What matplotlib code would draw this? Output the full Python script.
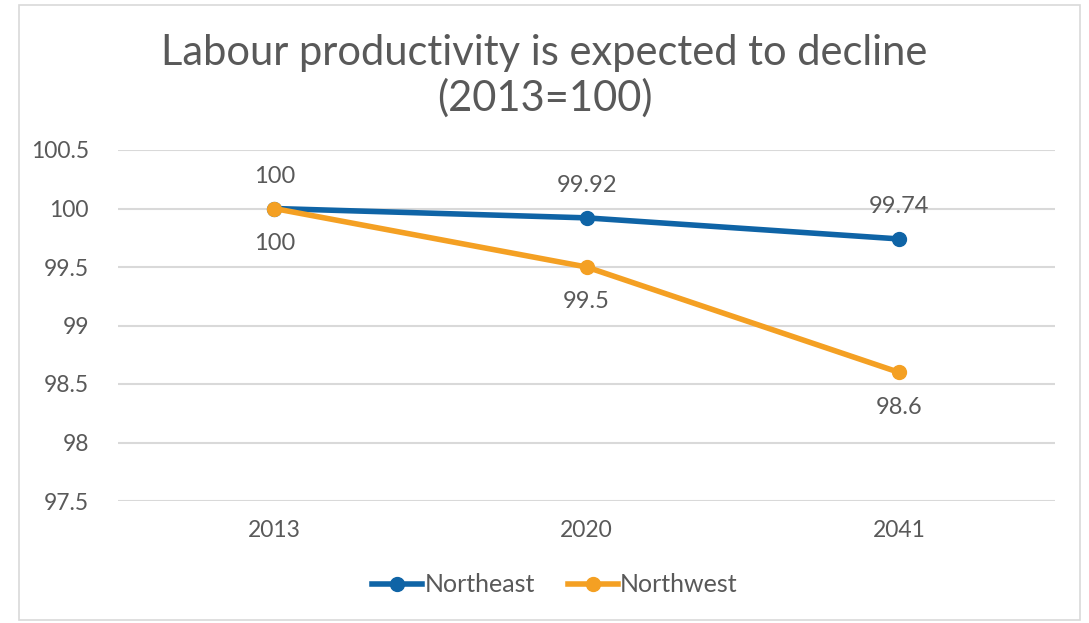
import matplotlib
matplotlib.use("Agg")
import matplotlib.pyplot as plt
from matplotlib.patches import Rectangle
from matplotlib.lines import Line2D

years = ["2013", "2020", "2041"]
northeast = [100, 99.92, 99.74]
northwest = [100, 99.5, 98.6]
y_ticks = [97.5, 98, 98.5, 99, 99.5, 100, 100.5]

BLUE = "#0F64A6"
ORANGE = "#F4A023"
TEXT = "#595959"
GRID = "#D9D9D9"
FONT = "Lato"

plt.rcParams["font.family"] = [FONT, "DejaVu Sans"]

W, H = 1089, 623
fig = plt.figure(figsize=(W / 100, H / 100), dpi=100)
fig.patch.set_facecolor("white")

# chart frame
fig.add_artist(Rectangle((19 / W, 1 - 620 / H), (1080 - 19) / W, (620 - 5) / H,
                         transform=fig.transFigure, fill=False,
                         edgecolor="#D9D9D9", linewidth=1.2))

ax = fig.add_axes([118 / W, 1 - 501 / H, (1055 - 118) / W, (501 - 150) / H])
x = [0.5, 1.5, 2.5]
ax.set_xlim(0, 3)
ax.set_ylim(97.5, 100.5)
ax.set_yticks(y_ticks)
ax.set_yticklabels([f"{v:g}" for v in y_ticks])
ax.set_xticks(x)
ax.set_xticklabels(years)
ax.tick_params(length=0, labelsize=16.5, labelcolor=TEXT)
ax.tick_params(axis="y", pad=21)
ax.tick_params(axis="x", pad=14)
for s in ax.spines.values():
    s.set_visible(False)
ax.grid(axis="y", color=GRID, linewidth=1.5)
ax.set_axisbelow(True)

ax.plot(x, northeast, color=BLUE, linewidth=4, marker="o", markersize=10,
        solid_capstyle="round", zorder=3, label="Northeast")
ax.plot(x, northwest, color=ORANGE, linewidth=4, marker="o", markersize=10,
        solid_capstyle="round", zorder=4, label="Northwest")

for xi, v in zip(x, northeast):
    ax.annotate(f"{v:g}", (xi, v), xytext=(0, 23), textcoords="offset points",
                ha="center", va="center", fontsize=17, color=TEXT)
for xi, v in zip(x, northwest):
    ax.annotate(f"{v:g}", (xi, v), xytext=(0, -25), textcoords="offset points",
                ha="center", va="center", fontsize=17, color=TEXT)

fig.text(0.5, 1 - 76 / H, "Labour productivity is expected to decline\n(2013=100)",
         ha="center", va="center", fontsize=30, color=TEXT, linespacing=1.2)

handles = [Line2D([0], [0], color=BLUE, linewidth=4, marker="o", markersize=10),
           Line2D([0], [0], color=ORANGE, linewidth=4, marker="o", markersize=10)]
fig.legend(handles, ["Northeast", "Northwest"], loc="center",
           bbox_to_anchor=(555 / W, 1 - 585 / H), ncol=2, frameon=False,
           fontsize=18, labelcolor=TEXT, handlelength=2.0, handletextpad=0.1,
           columnspacing=1.3)

fig.savefig("out.png", dpi=100, facecolor="white")
